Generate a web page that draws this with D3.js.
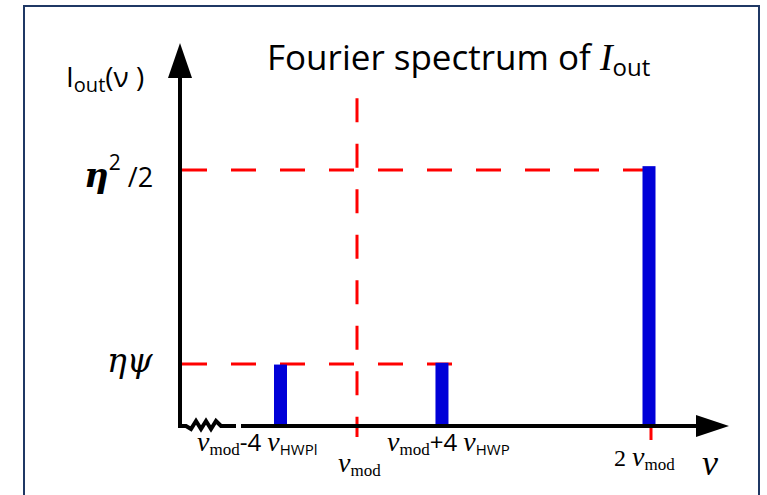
<!DOCTYPE html>
<html>
<head>
<meta charset="utf-8">
<script src="https://cdn.jsdelivr.net/npm/d3@7"></script>
<style>
  html, body { margin: 0; padding: 0; background: #fff; }
  svg { display: block; }
</style>
</head>
<body>
<script>
'use strict';

// frequencies in units of nu_mod, amplitudes relative to eta^2/2
var barFreq = [0.738, 1.291, 2.0];
var barAmp = [0.24, 0.247, 1.015];

var levelValues = [1, 0.242];
var levelEndFreq = [1.98, 1.33];
var levelLabels = ["eta2", "etapsi"];

var markFreq = [1, 2];
var xLabels = [
   {freq: 0.738, parts: [["ν", "nu"], ["mod", "sub"], ["-4 ", "sans"], ["ν", "nu"], ["HWPl", "subsans"]]},
   {freq: 1.0,   parts: [["ν", "nu"], ["mod", "sub"]]},
   {freq: 1.291, parts: [["ν", "nu"], ["mod", "sub"], ["+4 ", "sans"], ["ν", "nu"], ["HWP", "subsans"]]},
   {freq: 2.0,   parts: [["2 ", "serif"], ["ν", "nu"], ["mod", "sub"]]}
];

window.onload = function(){

   var width = 767, height = 495;
   var axisX = 180;

   var x = d3.scaleLinear().domain([1, 2]).range([357, 649]);
   var y = d3.scaleLinear().domain([0, 1]).range([426, 170]);

   var svg = d3.select("body").append("svg")
      .attr("width", width)
      .attr("height", height);

   // frame
   svg.append("path")
      .attr("d", "M24,500 V6 H759 V500")
      .attr("fill", "none")
      .attr("stroke", "#1f3864")
      .attr("stroke-width", 2);

   var red = "#ff0000";

   // horizontal reference levels
   svg.selectAll("line.level")
      .data(levelValues)
      .enter()
      .append("line")
      .attr("class", "level")
      .attr("x1", axisX + 2)
      .attr("x2", function(d, i){ return x(levelEndFreq[i]); })
      .attr("y1", function(d){ return y(d); })
      .attr("y2", function(d){ return y(d); })
      .attr("stroke", red)
      .attr("stroke-width", 3)
      .attr("stroke-dasharray", "25,24");

   // vertical line at nu_mod
   svg.append("line")
      .attr("x1", x(markFreq[0])).attr("x2", x(markFreq[0]))
      .attr("y1", y(1.28)).attr("y2", y(0) + 11)
      .attr("stroke", red)
      .attr("stroke-width", 3)
      .attr("stroke-dasharray", "24,21.5");

   // small tick at 2 nu_mod
   svg.append("line")
      .attr("x1", x(markFreq[1]) + 2).attr("x2", x(markFreq[1]) + 2)
      .attr("y1", y(0)).attr("y2", y(0) + 14)
      .attr("stroke", red)
      .attr("stroke-width", 3);

   // bars
   svg.selectAll("rect.bar")
      .data(barFreq)
      .enter()
      .append("rect")
      .attr("class", "bar")
      .attr("x", function(d){ return x(d) - 6.5; })
      .attr("width", 13)
      .attr("y", function(d, i){ return y(barAmp[i]); })
      .attr("height", function(d, i){ return y(0) - y(barAmp[i]); })
      .style("fill", "#0000d8");

   // axes
   var y0 = y(0);
   var line = d3.line();
   svg.append("path")
      .attr("d", line([[axisX, 77], [axisX, y0], [186, y0], [191, y0 + 3], [196, y0 - 5], [201, y0 + 3],
                       [206, y0 - 5], [211, y0 + 3], [216, y0 - 5], [221, y0], [236, y0]]))
      .attr("fill", "none")
      .attr("stroke", "#000")
      .attr("stroke-width", 4)
      .attr("stroke-linejoin", "miter");
   svg.append("line")
      .attr("x1", 241).attr("x2", 700)
      .attr("y1", y0).attr("y2", y0)
      .attr("stroke", "#000")
      .attr("stroke-width", 4);
   svg.append("path")
      .attr("d", "M" + axisX + ",43 L" + (axisX + 12) + ",78 L" + (axisX - 12) + ",78 Z")
      .attr("fill", "#000");
   svg.append("path")
      .attr("d", "M729," + y0 + " L696," + (y0 - 11) + " L696," + (y0 + 11) + " Z")
      .attr("fill", "#000");

   var sans = "'Open Sans', 'Liberation Sans', sans-serif";
   var serif = "'Liberation Serif', 'DejaVu Serif', serif";

   // title
   var title = svg.append("text")
      .attr("x", 267).attr("y", 70)
      .style("font-family", sans)
      .style("font-size", "35px")
      .attr("fill", "#000");
   title.append("tspan").text("Fourier spectrum of ");
   title.append("tspan").text("I")
      .style("font-family", serif).style("font-style", "italic").style("font-size", "38px");
   title.append("tspan").text("out").attr("dy", 6).style("font-size", "24px");

   // y axis label
   var ylab = svg.append("text")
      .attr("x", 66).attr("y", 87)
      .style("font-family", sans)
      .style("font-size", "28px");
   ylab.append("tspan").text("I");
   ylab.append("tspan").text("out").attr("dy", 5).style("font-size", "20px");
   ylab.append("tspan").text("(ν )").attr("dy", -5);

   // level labels
   var l1 = svg.append("text")
      .attr("x", 84).attr("y", y(levelValues[0]) + 17);
   l1.append("tspan").text("η")
      .style("font-family", "'DejaVu Serif', serif").style("font-style", "italic")
      .style("font-weight", "bold").style("font-size", "34px");
   l1.append("tspan").text("2").attr("dy", -17)
      .style("font-family", sans).style("font-size", "21px");
   l1.append("tspan").text(" /2").attr("dy", 17)
      .style("font-family", sans).style("font-size", "27px");

   svg.append("text")
      .attr("x", 107).attr("y", y(levelValues[1]) + 8)
      .style("font-family", "'DejaVu Serif', serif").style("font-style", "italic")
      .style("font-size", "33px")
      .text("ηψ");

   // x tick labels
   var xLabelPos = [[197, 451], [338, 472], [387, 451], [614, 466]];
   var partStyle = {
      nu:      {family: serif, style: "italic", size: 28, dy: 0},
      sub:     {family: serif, style: "normal", size: 17, dy: 4},
      sans:    {family: sans,  style: "normal", size: 24, dy: 0},
      subsans: {family: sans,  style: "normal", size: 15, dy: 4},
      serif:   {family: serif, style: "normal", size: 24, dy: 0}
   };

   var labels = svg.selectAll("text.xlab")
      .data(xLabels)
      .enter()
      .append("text")
      .attr("class", "xlab")
      .attr("x", function(d, i){ return xLabelPos[i][0]; })
      .attr("y", function(d, i){ return xLabelPos[i][1]; });

   labels.each(function(d){
      var t = d3.select(this);
      var cur = 0;
      d.parts.forEach(function(p){
         var s = partStyle[p[1]];
         t.append("tspan")
            .text(p[0])
            .attr("dy", s.dy - cur)
            .style("font-family", s.family)
            .style("font-style", s.style)
            .style("font-size", s.size + "px");
         cur = s.dy;
      });
   });

   // axis variable
   svg.append("text")
      .attr("x", 702).attr("y", 475)
      .style("font-family", serif).style("font-style", "italic")
      .style("font-size", "36px")
      .text("ν");
};
</script>
</body>
</html>
